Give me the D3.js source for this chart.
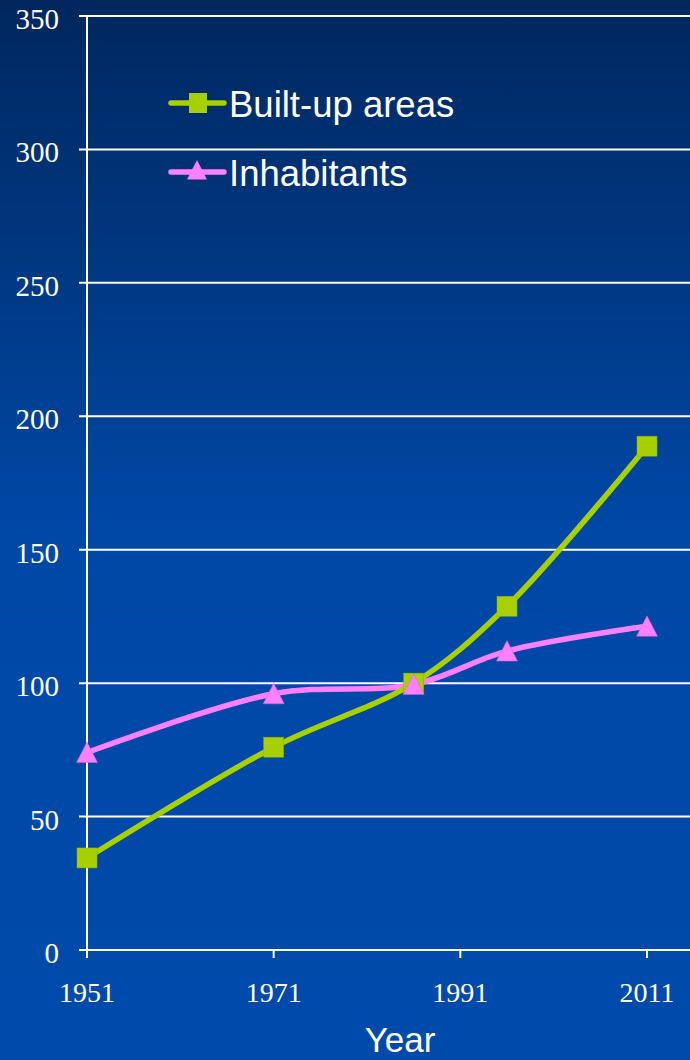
<!DOCTYPE html>
<html>
<head>
<meta charset="utf-8">
<script src="https://cdn.jsdelivr.net/npm/d3@7"></script>
<style>
  body { margin: 0; background: #004aab; }
  svg { display: block; }
</style>
</head>
<body>
<script>
// data
var years = [1951, 1971, 1986, 1996, 2011];
var builtUp = [34.5, 76, 100, 128.8, 188.8];
var inhabitants = [74, 96, 99.5, 112, 121.3];
var yTicks = [0, 50, 100, 150, 200, 250, 300, 350];
var xTicks = [1951, 1971, 1991, 2011];
var seriesNames = ["Built-up areas", "Inhabitants"];

var W = 690, H = 1060;
var svg = d3.select("body").append("svg").attr("width", W).attr("height", H);

var defs = svg.append("defs");
var grad = defs.append("linearGradient").attr("id", "bg")
  .attr("x1", 0).attr("y1", 0).attr("x2", 0).attr("y2", 1);
grad.append("stop").attr("offset", "0%").attr("stop-color", "#00275e");
grad.append("stop").attr("offset", "50%").attr("stop-color", "#0048a6");
grad.append("stop").attr("offset", "100%").attr("stop-color", "#004aab");
svg.append("rect").attr("width", W).attr("height", H).attr("fill", "url(#bg)");

var x = d3.scaleLinear().domain([1951, 2011]).range([87, 647]);
var y = d3.scaleLinear().domain([0, 350]).range([950, 16]);

// gridlines + y labels
svg.selectAll(".grid").data(yTicks).enter().append("line")
  .attr("x1", 79).attr("x2", W)
  .attr("y1", function(d){ return y(d); })
  .attr("y2", function(d){ return y(d); })
  .attr("stroke", "#fff").attr("stroke-width", 2);

svg.selectAll(".ylab").data(yTicks).enter().append("text")
  .attr("x", 59).attr("y", function(d){ return y(d) + 13; })
  .attr("text-anchor", "end")
  .attr("fill", "#fff")
  .style("font-family", "Liberation Serif, serif")
  .style("font-size", "29px")
  .text(function(d){ return d; });

// y axis line
svg.append("line").attr("x1", 87).attr("x2", 87).attr("y1", y(350)).attr("y2", y(0))
  .attr("stroke", "#fff").attr("stroke-width", 2);

// x ticks
svg.selectAll(".xtick").data(xTicks).enter().append("line")
  .attr("x1", function(d){ return x(d); }).attr("x2", function(d){ return x(d); })
  .attr("y1", 950).attr("y2", 958)
  .attr("stroke", "#fff").attr("stroke-width", 2);

svg.selectAll(".xlab").data(xTicks).enter().append("text")
  .attr("x", function(d){ return x(d); }).attr("y", 1002)
  .attr("text-anchor", "middle")
  .attr("fill", "#fff")
  .style("font-family", "Liberation Serif, serif")
  .style("font-size", "28px")
  .text(function(d){ return d; });

svg.append("text").attr("x", 400).attr("y", 1052)
  .attr("text-anchor", "middle").attr("fill", "#fff")
  .style("font-family", "Liberation Sans, Arial, sans-serif")
  .style("font-size", "35px")
  .text("Year");

var line = d3.line()
  .x(function(d){ return x(d[0]); })
  .y(function(d){ return y(d[1]); })
  .curve(d3.curveCatmullRom.alpha(0.5));

var green = "#a8d000", pink = "#ff80ff";
var dBuilt = years.map(function(yr, i){ return [yr, builtUp[i]]; });
var dInh = years.map(function(yr, i){ return [yr, inhabitants[i]]; });

svg.append("path").datum(dInh).attr("d", line)
  .attr("fill", "none").attr("stroke", pink).attr("stroke-width", 5.5).attr("stroke-linecap", "round");
svg.append("path").datum(dBuilt).attr("d", line)
  .attr("fill", "none").attr("stroke", green).attr("stroke-width", 5.5).attr("stroke-linecap", "round");

var sq = 20;
svg.selectAll(".sq").data(dBuilt).enter().append("rect")
  .attr("x", function(d){ return x(d[0]) - sq/2; })
  .attr("y", function(d){ return y(d[1]) - sq/2; })
  .attr("width", sq).attr("height", sq)
  .attr("fill", green).attr("stroke", "#8fb000").attr("stroke-width", 0.5);

// triangle marker, a bit taller than wide like the original
var tri = "M0,-10.5L10.5,10L-10.5,10Z";
svg.selectAll(".tri").data(dInh).enter().append("path")
  .attr("d", tri)
  .attr("transform", function(d){ return "translate(" + x(d[0]) + "," + y(d[1]) + ")"; })
  .attr("fill", pink).attr("stroke", "#d060d0").attr("stroke-width", 0.5);

// legend
var leg = svg.append("g");
var legY = [103, 172];
seriesNames.forEach(function(name, i){
  var g = leg.append("g").attr("transform", "translate(0," + legY[i] + ")");
  g.append("line").attr("x1", 171).attr("x2", 224).attr("y1", 0).attr("y2", 0)
    .attr("stroke", i === 0 ? green : pink).attr("stroke-width", 5.5).attr("stroke-linecap", "round");
  if (i === 0) {
    g.append("rect").attr("x", 189).attr("y", -10).attr("width", 18).attr("height", 20).attr("fill", green);
  } else {
    g.append("path").attr("d", tri).attr("transform", "translate(197,-2) scale(0.95)").attr("fill", pink);
  }
  g.append("text").attr("x", 229).attr("y", 14)
    .attr("fill", "#fff")
    .style("font-family", "Liberation Sans, Arial, sans-serif")
    .style("font-size", "36.5px")
    .text(name);
});
</script>
</body>
</html>
